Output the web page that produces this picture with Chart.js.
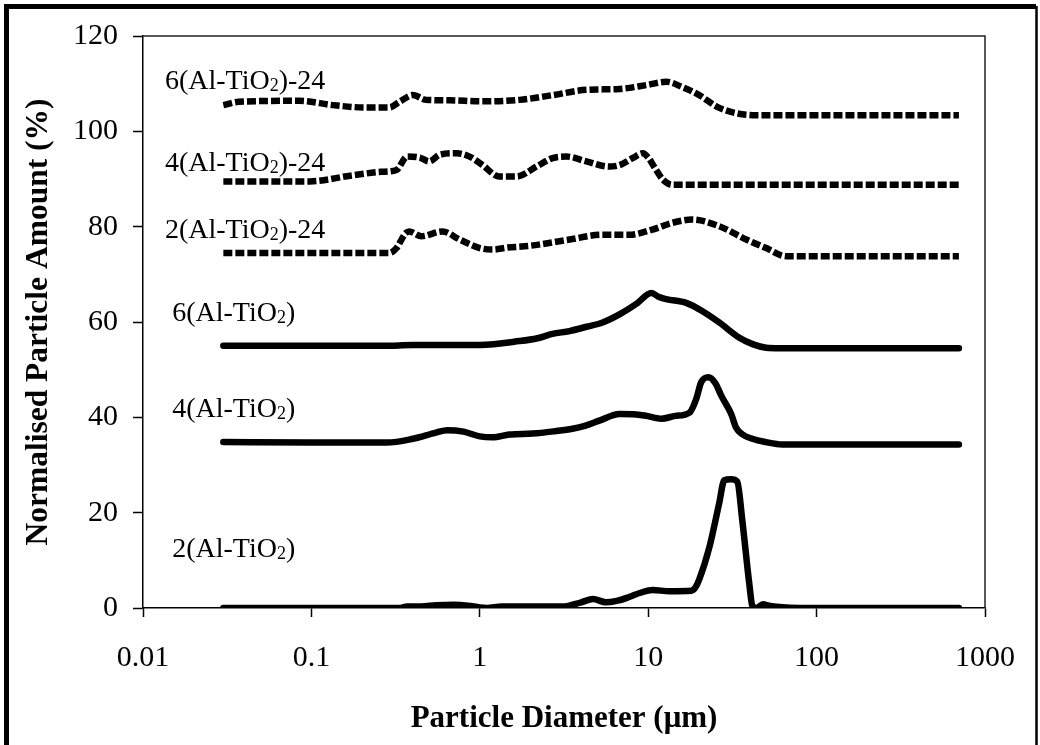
<!DOCTYPE html>
<html>
<head>
<meta charset="utf-8">
<title>Particle size distribution</title>
<script src="https://cdn.jsdelivr.net/npm/chart.js@4.4.1/dist/chart.umd.min.js"></script>
<style>
  html, body { margin: 0; padding: 0; background: #fff; }
  #wrap { width: 1040px; height: 745px; }
</style>
</head>
<body>
<div id="wrap"><canvas id="psd" width="1040" height="745"></canvas></div>
<script>
// axis ticks
const xTickValues = [0.01, 0.1, 1, 10, 100, 1000];
const xTickLabels = ['0.01', '0.1', '1', '10', '100', '1000'];
const yTickValues = [0, 20, 40, 60, 80, 100, 120];

// 2(Al-TiO2), as milled
const s2Size = [0.03, 0.1, 0.33, 0.37, 0.45, 0.55, 0.7, 0.85, 1.0, 1.1, 1.35, 2.5, 3.1, 4.0, 4.7, 5.6, 6.5, 7.7, 9.0, 10.6, 13.4, 18.0, 19.0, 20.1, 23.1, 26.4, 28.3, 31, 33.8, 36.2, 39.8, 41.5, 44, 48, 52, 60, 80, 200, 700];
const s2Amount = [0, 0, 0, 0.3, 0.3, 0.6, 0.7, 0.5, 0.1, 0, 0.3, 0.3, 0.3, 1.2, 1.9, 1.2, 1.5, 2.3, 3.2, 3.8, 3.5, 3.6, 4.2, 6, 12.8, 22, 26.8, 27, 26.5, 18.4, 5.2, 0.5, 0, 0.8, 0.5, 0.2, 0, 0, 0];

// 4(Al-TiO2)
const s4Size = [0.03, 0.1, 0.28, 0.4, 0.55, 0.64, 0.8, 1.0, 1.19, 1.5, 2.06, 2.8, 3.55, 4.2, 5.13, 6.75, 8.5, 9.77, 11.97, 14.5, 17.6, 19.3, 20.6, 22.8, 25, 27.2, 31.1, 33.3, 36, 41.5, 50, 62.5, 100, 700];
const s4Amount = [34.8, 34.7, 34.7, 35.5, 36.8, 37.3, 37.0, 36.0, 35.8, 36.4, 36.6, 37.1, 37.6, 38.2, 39.3, 40.7, 40.6, 40.3, 39.7, 40.3, 41.0, 43.9, 47.3, 48.4, 47.2, 44.5, 40.7, 37.8, 36.5, 35.5, 34.8, 34.3, 34.3, 34.3];

// 6(Al-TiO2)
const s6Size = [0.03, 0.3, 0.4, 1.0, 1.72, 2.2, 2.7, 3.41, 4.3, 5.36, 6.75, 8.5, 10.45, 11.5, 12.8, 16.8, 20.9, 26.4, 34.8, 42, 50.2, 60, 700];
const s6Amount = [55.0, 55.0, 55.2, 55.2, 56.0, 56.6, 57.5, 58.1, 59.0, 59.9, 61.6, 63.8, 66.1, 65.3, 64.8, 64.0, 62.3, 59.9, 56.7, 55.3, 54.6, 54.5, 54.5];

// 2(Al-TiO2)-24
const s2hSize = [0.03, 0.1, 0.29, 0.32, 0.36, 0.38, 0.45, 0.6, 0.76, 1.0, 1.19, 1.45, 2.0, 3.41, 5.36, 7.7, 10.6, 13.9, 18.2, 26.4, 38.2, 50.2, 66, 700];
const s2hAmount = [74.5, 74.5, 74.5, 75.5, 78.5, 79, 78, 79, 77.3, 75.5, 75.2, 75.6, 76.0, 77.3, 78.3, 78.3, 79.4, 80.8, 81.5, 80.1, 77.3, 75.5, 73.8, 73.8];

// 4(Al-TiO2)-24
const s4hSize = [0.03, 0.098, 0.17, 0.26, 0.32, 0.37, 0.44, 0.5, 0.58, 0.73, 0.87, 1.03, 1.31, 1.65, 2.17, 2.71, 3.27, 4.29, 5.87, 6.75, 8.1, 9.3, 10, 11.1, 12.2, 13.9, 700];
const s4hAmount = [89.5, 89.5, 90.7, 91.5, 91.9, 94.7, 94.5, 93.7, 95.1, 95.4, 94.7, 93.0, 90.5, 90.5, 92.6, 94.4, 94.7, 93.7, 92.6, 92.9, 94.4, 95.4, 94.5, 92, 89.9, 88.8, 88.8];

// 6(Al-TiO2)-24
const s6hSize = [0.03, 0.037, 0.085, 0.134, 0.21, 0.29, 0.334, 0.40, 0.48, 0.66, 1.03, 1.72, 2.71, 4.29, 6.75, 9.77, 12.8, 15.9, 20.1, 25.5, 33.3, 43.7, 700];
const s6hAmount = [105.5, 106.2, 106.4, 105.5, 105, 105, 106.2, 107.6, 106.6, 106.5, 106.3, 106.6, 107.6, 108.7, 108.9, 109.7, 110.4, 109.3, 107.6, 105.2, 103.8, 103.4, 103.4];

// curve labels: [before subscript, subscript, after], anchored at (size, amount) on the text baseline
const curveLabels = [
    { parts: ['6(Al-TiO', '2', ')-24'], x: 0.0135, y: 108.9 },
    { parts: ['4(Al-TiO', '2', ')-24'], x: 0.0135, y: 91.6 },
    { parts: ['2(Al-TiO', '2', ')-24'], x: 0.0135, y: 77.6 },
    { parts: ['6(Al-TiO', '2', ')'], x: 0.0149, y: 60.2 },
    { parts: ['4(Al-TiO', '2', ')'], x: 0.0149, y: 40.0 },
    { parts: ['2(Al-TiO', '2', ')'], x: 0.0149, y: 10.7 }
];

const SERIF = "'Liberation Serif', 'Times New Roman', serif";

function points(xs, ys) {
    return xs.map((x, i) => ({ x: x, y: ys[i] }));
}

function curve(label, xs, ys, dashed) {
    return {
        label: label,
        data: points(xs, ys),
        borderColor: '#000',
        borderWidth: 6.5,
        borderDash: dashed ? [9, 3] : [],
        borderCapStyle: dashed ? 'butt' : 'round',
        borderJoinStyle: 'round',
        pointRadius: 0,
        cubicInterpolationMode: 'monotone',
        fill: false,
        clip: 0
    };
}

// white page with the heavy outer frame
const pageFrame = {
    id: 'pageFrame',
    beforeDraw(chart) {
        const ctx = chart.ctx;
        ctx.save();
        ctx.fillStyle = '#fff';
        ctx.fillRect(0, 0, chart.width, chart.height);
        ctx.strokeStyle = '#000';
        ctx.lineWidth = 5;
        ctx.beginPath();
        ctx.moveTo(6.5, chart.height + 5);
        ctx.lineTo(6.5, 6.5);
        ctx.lineTo(1036, 6.5);
        ctx.stroke();
        ctx.lineWidth = 2.5;
        ctx.beginPath();
        ctx.moveTo(1036.5, 6);
        ctx.lineTo(1036.5, chart.height + 5);
        ctx.stroke();
        ctx.restore();
    }
};

// thin top and right edges of the plot area, plus the curve names
const plotExtras = {
    id: 'plotExtras',
    afterDraw(chart) {
        const ctx = chart.ctx;
        const area = chart.chartArea;
        const xs = chart.scales.x;
        const ys = chart.scales.y;
        ctx.save();
        ctx.strokeStyle = '#222';
        ctx.lineWidth = 1.5;
        ctx.beginPath();
        ctx.moveTo(area.left, area.top);
        ctx.lineTo(area.right, area.top);
        ctx.lineTo(area.right, area.bottom);
        ctx.stroke();

        ctx.fillStyle = '#000';
        ctx.textBaseline = 'alphabetic';
        ctx.textAlign = 'left';
        curveLabels.forEach(lbl => {
            let px = xs.getPixelForValue(lbl.x);
            const py = ys.getPixelForValue(lbl.y);
            ctx.font = '28px ' + SERIF;
            ctx.fillText(lbl.parts[0], px, py);
            px += ctx.measureText(lbl.parts[0]).width;
            ctx.font = '18px ' + SERIF;
            ctx.fillText(lbl.parts[1], px, py + 2);
            px += ctx.measureText(lbl.parts[1]).width;
            ctx.font = '28px ' + SERIF;
            ctx.fillText(lbl.parts[2], px, py);
        });
        ctx.restore();
    }
};

Chart.defaults.color = '#000';

new Chart(document.getElementById('psd'), {
    type: 'line',
    data: {
        datasets: [
            curve('2(Al-TiO2)', s2Size, s2Amount, false),
            curve('4(Al-TiO2)', s4Size, s4Amount, false),
            curve('6(Al-TiO2)', s6Size, s6Amount, false),
            curve('2(Al-TiO2)-24', s2hSize, s2hAmount, true),
            curve('4(Al-TiO2)-24', s4hSize, s4hAmount, true),
            curve('6(Al-TiO2)-24', s6hSize, s6hAmount, true)
        ]
    },
    options: {
        responsive: false,
        animation: false,
        devicePixelRatio: 1,
        layout: { padding: { left: 0, top: 36, right: 55, bottom: 0 } },
        plugins: {
            legend: { display: false },
            tooltip: { enabled: false }
        },
        scales: {
            x: {
                type: 'logarithmic',
                min: 0.01,
                max: 1000,
                afterBuildTicks: scale => {
                    scale.ticks = xTickValues.map(v => ({ value: v }));
                },
                afterFit: scale => { scale.height = 137; },
                ticks: {
                    callback: (value, i) => xTickLabels[i],
                    autoSkip: false,
                    maxRotation: 0,
                    padding: 23,
                    font: { family: SERIF, size: 30 }
                },
                grid: { drawOnChartArea: false, tickLength: 9, tickWidth: 1.5, tickColor: '#000' },
                border: { color: '#000', width: 1.5 },
                title: {
                    display: true,
                    text: 'Particle Diameter (\u03bcm)',
                    font: { family: SERIF, size: 31, weight: 'bold' },
                    padding: { top: 0, bottom: 7 }
                }
            },
            y: {
                min: 0,
                max: 120,
                afterBuildTicks: scale => {
                    scale.ticks = yTickValues.map(v => ({ value: v }));
                },
                afterFit: scale => { scale.width = 143; },
                ticks: {
                    padding: 15,
                    font: { family: SERIF, size: 30 }
                },
                grid: { drawOnChartArea: false, tickLength: 10, tickWidth: 1.5, tickColor: '#000' },
                border: { color: '#000', width: 1.5 },
                title: {
                    display: true,
                    text: 'Normalised Particle Amount (%)',
                    font: { family: SERIF, size: 31.5, weight: 'bold' },
                    padding: { top: 20, bottom: 0 }
                }
            }
        }
    },
    plugins: [pageFrame, plotExtras]
});
</script>
</body>
</html>
